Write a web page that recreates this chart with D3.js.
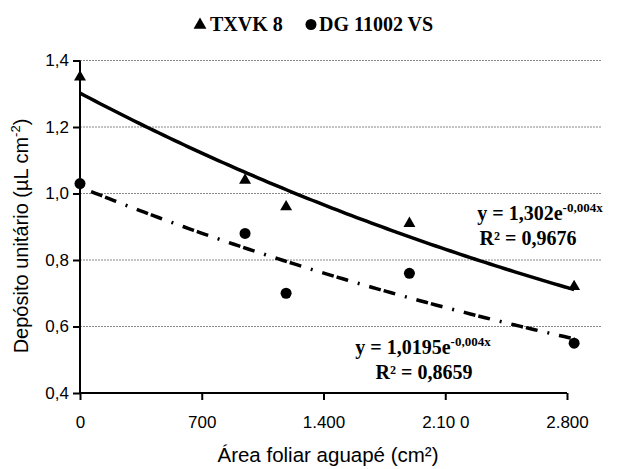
<!DOCTYPE html>
<html>
<head>
<meta charset="utf-8">
<script src="https://cdn.jsdelivr.net/npm/d3@7"></script>
<style>
  body { margin: 0; background: #fff; }
  svg { display: block; }
</style>
</head>
<body>
<svg id="chart" width="618" height="469"></svg>
<script>
// data
const areaTX = [0, 949, 1185, 1894, 2841];
const depTX = [1.35, 1.04, 0.96, 0.91, 0.72];
const areaDG = [0, 949, 1185, 1894, 2841];
const depDG = [1.03, 0.88, 0.70, 0.76, 0.55];

const trendTX = { a: 1.302, k: 0.000213, label: '1,302', r2: '0,9676' };
const trendDG = { a: 1.0195, k: 0.000209, label: '1,0195', r2: '0,8659' };

const xTicks = [0, 700, 1400, 2100, 2800];
const xTickLabels = ['0', '700', '1.400', '2.10 0', '2.800'];
const yTicks = [0.4, 0.6, 0.8, 1.0, 1.2, 1.4];

const svg = d3.select('#chart');
const mLeft = 80, mRight = 567, mTop = 60.5, mBottom = 393;

const x = d3.scaleLinear().domain([0, 2800]).range([mLeft, mRight]);
const y = d3.scaleLinear().domain([0.4, 1.4]).range([mBottom, mTop]);

// grid lines
svg.append('g')
  .selectAll('line')
  .data(yTicks.filter(d => d > 0.4))
  .join('line')
  .attr('x1', mLeft).attr('x2', 601)
  .attr('y1', d => y(d)).attr('y2', d => y(d))
  .attr('stroke', '#888')
  .attr('stroke-width', 1)
  .attr('stroke-dasharray', '2,1');

// axes
const yAxis = svg.append('g')
  .attr('transform', `translate(${mLeft},0)`)
  .call(d3.axisLeft(y).tickValues(yTicks).tickSize(7).tickPadding(4)
    .tickFormat(d => d3.format('.1f')(d).replace('.', ',')));
const xAxis = svg.append('g')
  .attr('transform', `translate(0,${mBottom})`)
  .call(d3.axisBottom(x).tickValues(xTicks).tickSize(7).tickPadding(16)
    .tickFormat((d, i) => xTickLabels[i]));

[yAxis, xAxis].forEach(ax => {
  ax.select('.domain').attr('stroke', '#000').attr('stroke-width', 2);
  ax.selectAll('.tick line').attr('stroke', '#000').attr('stroke-width', 2);
  ax.selectAll('.tick text')
    .attr('fill', '#000')
    .style('font-family', '"Liberation Sans", Arial, sans-serif')
    .style('font-size', '17px');
});
// path ends without outer ticks
yAxis.select('.domain').attr('d', `M0,${mBottom}V${mTop}`);
xAxis.select('.domain').attr('d', `M${mLeft},0H${mRight}`);

// trend curves
function curve(t, xmax) {
  const pts = d3.range(0, 101).map(i => {
    const xv = xmax * i / 100;
    return [x(xv), y(t.a * Math.exp(-t.k * xv))];
  });
  return d3.line()(pts);
}

svg.append('path')
  .attr('d', curve(trendTX, d3.max(areaTX)))
  .attr('fill', 'none')
  .attr('stroke', '#000')
  .attr('stroke-width', 3.5);

svg.append('path')
  .attr('d', curve(trendDG, d3.max(areaDG)))
  .attr('fill', 'none')
  .attr('stroke', '#000')
  .attr('stroke-width', 3.5)
  .attr('stroke-dasharray', '2,10,12,3,12,10');

// markers
const tri = d3.symbol().type(d3.symbolTriangle).size(62);
svg.append('g')
  .selectAll('path')
  .data(areaTX.map((a, i) => [a, depTX[i]]))
  .join('path')
  .attr('d', tri)
  .attr('transform', d => `translate(${x(d[0])},${y(d[1])})`)
  .attr('fill', '#000');

svg.append('g')
  .selectAll('circle')
  .data(areaDG.map((a, i) => [a, depDG[i]]))
  .join('circle')
  .attr('cx', d => x(d[0]))
  .attr('cy', d => y(d[1]))
  .attr('r', 5.5)
  .attr('fill', '#000');

// equations
const serif = '"Liberation Serif", "Times New Roman", serif';
function equation(t, xPos, yPos, rPos) {
  const g = svg.append('g').style('font-family', serif).style('font-weight', 'bold');
  const eq = g.append('text')
    .attr('x', xPos).attr('y', yPos)
    .attr('text-anchor', 'middle')
    .style('font-size', '20px');
  eq.append('tspan').text(`y = ${t.label}e`);
  eq.append('tspan').attr('dy', -8).style('font-size', '13px').text('-0,004x');
  g.append('text')
    .attr('x', rPos).attr('y', yPos + 25)
    .attr('text-anchor', 'middle')
    .style('font-size', '20px')
    .text(`R² = ${t.r2}`);
}
equation(trendTX, 540, 220, 528);
equation(trendDG, 423, 354, 424);

// legend
const legend = svg.append('g')
  .style('font-family', serif)
  .style('font-weight', 'bold')
  .style('font-size', '20px');
legend.append('path')
  .attr('d', d3.symbol().type(d3.symbolTriangle).size(72))
  .attr('transform', 'translate(200,25)');
legend.append('text').attr('x', 210).attr('y', 31).text('TXVK 8');
legend.append('circle').attr('cx', 311).attr('cy', 24.5).attr('r', 5.5);
legend.append('text').attr('x', 319).attr('y', 31).text('DG 11002 VS');

// axis titles
const sans = '"Liberation Sans", Arial, sans-serif';
svg.append('text')
  .attr('transform', 'translate(28,236) rotate(-90)')
  .attr('text-anchor', 'middle')
  .style('font-family', sans)
  .style('font-size', '20px')
  .html('Depósito unitário (µL cm<tspan dy="-8" font-size="13px">-2</tspan><tspan dy="8">)</tspan>');

svg.append('text')
  .attr('x', 328).attr('y', 462)
  .attr('text-anchor', 'middle')
  .style('font-family', sans)
  .style('font-size', '20.5px')
  .text('Área foliar aguapé (cm²)');
</script>
</body>
</html>
